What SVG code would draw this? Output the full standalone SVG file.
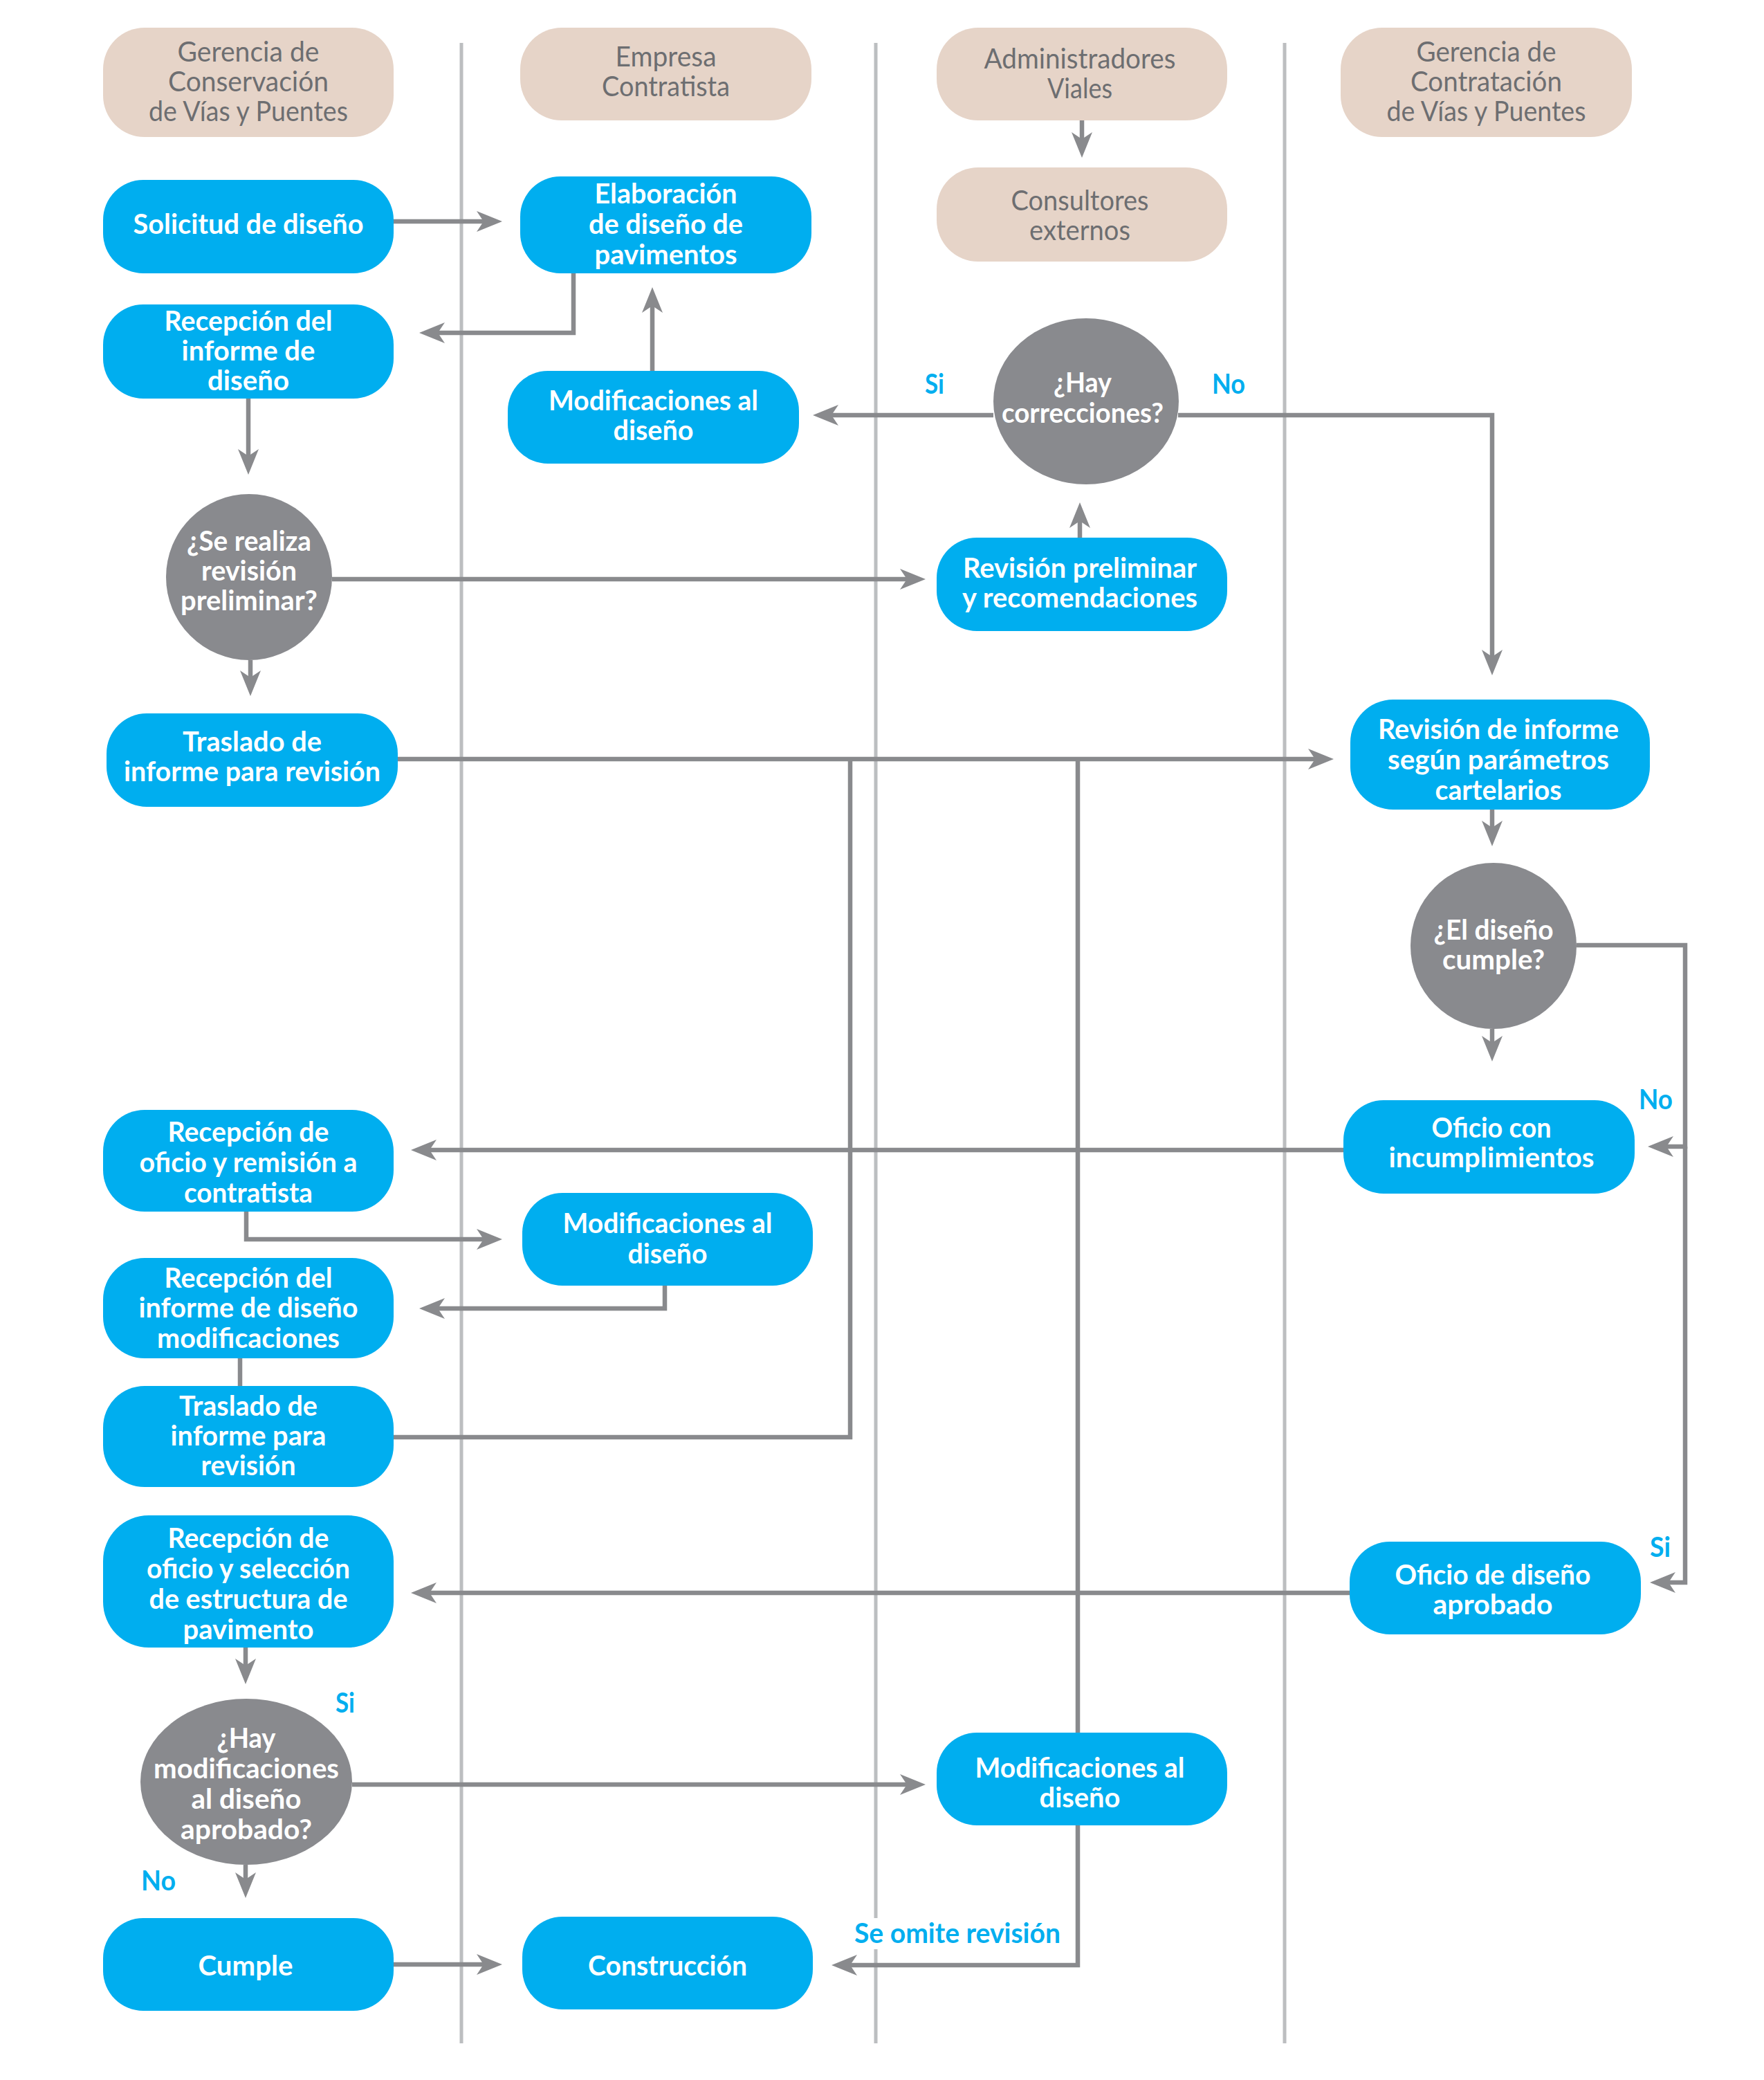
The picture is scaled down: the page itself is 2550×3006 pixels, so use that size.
<svg xmlns="http://www.w3.org/2000/svg" width="2550" height="3006" viewBox="0 0 2550 3006">
<style>
.bg{fill:#ffffff}
.lane{stroke:#BCBEC0;stroke-width:5;fill:none}
.hdr{fill:#E6D4C8}
.blue{fill:#00AEEF}
.dec{fill:#898A8E}
.con{stroke:#898A8D;stroke-width:6.5;fill:none}
.arr{marker-end:url(#ah)}
text{font-family:Lato,"Liberation Sans","DejaVu Sans",sans-serif;text-anchor:middle}
.h{font-size:40px;font-weight:400;fill:#6D6E71}
.t{font-size:41px;font-weight:700;fill:#ffffff}
.lbl{font-size:41px;font-weight:700;fill:#00AEEF;text-anchor:start}
</style>
<defs>
<marker id="ah" markerUnits="userSpaceOnUse" markerWidth="40" markerHeight="34" viewBox="0 -17 40 34" refX="10" refY="0" orient="auto" overflow="visible">
<path d="M0,-15 L37,0 L0,15 L10,0 Z" fill="#898A8D"/>
</marker>
</defs>
<rect class="bg" x="0" y="0" width="2550" height="3006"/>

<g id="lanes">
<line class="lane" x1="667" y1="62" x2="667" y2="2953"/>
<line class="lane" x1="1266" y1="62" x2="1266" y2="2772"/>
<line class="lane" x1="1266" y1="2817" x2="1266" y2="2953"/>
<line class="lane" x1="1857" y1="62" x2="1857" y2="2953"/>
</g>

<g id="connectors">
<path class="con arr" d="M569,320 H699"/>
<path class="con arr" d="M829,395 V481 H633"/>
<path class="con arr" d="M943,536 V442"/>
<path class="con arr" d="M359,576 V659"/>
<path class="con arr" d="M362,954 V979"/>
<path class="con arr" d="M480,837 H1311"/>
<path class="con arr" d="M1561,777 V753"/>
<path class="con arr" d="M1436,600 H1202"/>
<path class="con arr" d="M1703,600 H2157 V949"/>
<path class="con arr" d="M1564,174 V201"/>
<path class="con arr" d="M575,1097 H1901"/>
<path class="con arr" d="M2157,1170 V1196"/>
<path class="con arr" d="M2157,1487 V1507"/>
<path class="con arr" d="M2279,1366 H2436 V1657 H2409"/>
<path class="con arr" d="M2436,1657 V2287 H2412"/>
<path class="con arr" d="M1942,1662 H621"/>
<path class="con arr" d="M356,1751 V1791 H699"/>
<path class="con arr" d="M961,1858 V1891 H633"/>
<path class="con" d="M347,1963 V2003"/>
<path class="con" d="M569,2077 H1229 V1097"/>
<path class="con" d="M1558,1097 V2504"/>
<path class="con arr" d="M1951,2302 H621"/>
<path class="con arr" d="M355,2381 V2407"/>
<path class="con arr" d="M509,2579 H1311"/>
<path class="con arr" d="M355,2695 V2716"/>
<path class="con arr" d="M569,2839 H699"/>
<path class="con arr" d="M1558,2638 V2840 H1229"/>
</g>

<g id="h1">
<rect class="hdr" x="149" y="40" width="420" height="158" rx="60"/>
<text class="h" x="359" y="89" textLength="205" lengthAdjust="spacingAndGlyphs">Gerencia de</text>
<text class="h" x="359" y="132" textLength="232" lengthAdjust="spacingAndGlyphs">Conservación</text>
<text class="h" x="359" y="175" textLength="288" lengthAdjust="spacingAndGlyphs">de Vías y Puentes</text>
</g>
<g id="h2">
<rect class="hdr" x="752" y="40" width="421" height="134" rx="60"/>
<text class="h" x="962.5" y="96" textLength="146" lengthAdjust="spacingAndGlyphs">Empresa</text>
<text class="h" x="962.5" y="139" textLength="185" lengthAdjust="spacingAndGlyphs">Contratista</text>
</g>
<g id="h3">
<rect class="hdr" x="1354" y="40" width="420" height="134" rx="60"/>
<text class="h" x="1561" y="99" textLength="277" lengthAdjust="spacingAndGlyphs">Administradores</text>
<text class="h" x="1561" y="142" textLength="94" lengthAdjust="spacingAndGlyphs">Viales</text>
</g>
<g id="consultores">
<rect class="hdr" x="1354" y="242" width="420" height="136" rx="60"/>
<text class="h" x="1561" y="304" textLength="199" lengthAdjust="spacingAndGlyphs">Consultores</text>
<text class="h" x="1561" y="347" textLength="146" lengthAdjust="spacingAndGlyphs">externos</text>
</g>
<g id="h4">
<rect class="hdr" x="1938" y="40" width="421" height="158" rx="60"/>
<text class="h" x="2148.5" y="89" textLength="202" lengthAdjust="spacingAndGlyphs">Gerencia de</text>
<text class="h" x="2148.5" y="132" textLength="219" lengthAdjust="spacingAndGlyphs">Contratación</text>
<text class="h" x="2148.5" y="175" textLength="288" lengthAdjust="spacingAndGlyphs">de Vías y Puentes</text>
</g>

<g id="n1">
<rect class="blue" x="149" y="260" width="420" height="135" rx="58"/>
<text class="t" x="359" y="338" textLength="333" lengthAdjust="spacingAndGlyphs">Solicitud de diseño</text>
</g>
<g id="n2">
<rect class="blue" x="752" y="255" width="421" height="140" rx="58"/>
<text class="t" x="962.5" y="294" textLength="206" lengthAdjust="spacingAndGlyphs">Elaboración</text>
<text class="t" x="962.5" y="338" textLength="223" lengthAdjust="spacingAndGlyphs">de diseño de</text>
<text class="t" x="962.5" y="382" textLength="206" lengthAdjust="spacingAndGlyphs">pavimentos</text>
</g>
<g id="n3">
<rect class="blue" x="149" y="440" width="420" height="136" rx="58"/>
<text class="t" x="359" y="478" textLength="243" lengthAdjust="spacingAndGlyphs">Recepción del</text>
<text class="t" x="359" y="521" textLength="193" lengthAdjust="spacingAndGlyphs">informe de</text>
<text class="t" x="359" y="564" textLength="118" lengthAdjust="spacingAndGlyphs">diseño</text>
</g>
<g id="n4">
<rect class="blue" x="734" y="536" width="421" height="134" rx="58"/>
<text class="t" x="944.5" y="593" textLength="303" lengthAdjust="spacingAndGlyphs">Modificaciones al</text>
<text class="t" x="944.5" y="636" textLength="116" lengthAdjust="spacingAndGlyphs">diseño</text>
</g>
<g id="d1">
<circle class="dec" cx="360" cy="834" r="120"/>
<text class="t" x="360" y="796" textLength="180" lengthAdjust="spacingAndGlyphs">¿Se realiza</text>
<text class="t" x="360" y="839" textLength="138" lengthAdjust="spacingAndGlyphs">revisión</text>
<text class="t" x="360" y="882" textLength="198" lengthAdjust="spacingAndGlyphs">preliminar?</text>
</g>
<g id="d2">
<ellipse class="dec" cx="1570" cy="580" rx="134" ry="120"/>
<text class="t" x="1565" y="567" textLength="84" lengthAdjust="spacingAndGlyphs">¿Hay</text>
<text class="t" x="1565" y="611" textLength="234" lengthAdjust="spacingAndGlyphs">correcciones?</text>
</g>
<g id="n5">
<rect class="blue" x="1354" y="777" width="420" height="135" rx="58"/>
<text class="t" x="1561" y="835" textLength="338" lengthAdjust="spacingAndGlyphs">Revisión preliminar</text>
<text class="t" x="1561" y="878" textLength="340" lengthAdjust="spacingAndGlyphs">y recomendaciones</text>
</g>
<g id="n6">
<rect class="blue" x="154" y="1031" width="421" height="135" rx="58"/>
<text class="t" x="364.5" y="1086" textLength="201" lengthAdjust="spacingAndGlyphs">Traslado de</text>
<text class="t" x="364.5" y="1129" textLength="371" lengthAdjust="spacingAndGlyphs">informe para revisión</text>
</g>
<g id="n7">
<rect class="blue" x="1952" y="1011" width="433" height="159" rx="62"/>
<text class="t" x="2166" y="1068" textLength="348" lengthAdjust="spacingAndGlyphs">Revisión de informe</text>
<text class="t" x="2166" y="1112" textLength="320" lengthAdjust="spacingAndGlyphs">según parámetros</text>
<text class="t" x="2166" y="1156" textLength="183" lengthAdjust="spacingAndGlyphs">cartelarios</text>
</g>
<g id="d3">
<circle class="dec" cx="2159" cy="1367" r="120"/>
<text class="t" x="2159" y="1358" textLength="173" lengthAdjust="spacingAndGlyphs">¿El diseño</text>
<text class="t" x="2159" y="1401" textLength="148" lengthAdjust="spacingAndGlyphs">cumple?</text>
</g>
<g id="n8">
<rect class="blue" x="1942" y="1590" width="421" height="135" rx="58"/>
<text class="t" x="2156" y="1644" textLength="173" lengthAdjust="spacingAndGlyphs">Oficio con</text>
<text class="t" x="2156" y="1687" textLength="297" lengthAdjust="spacingAndGlyphs">incumplimientos</text>
</g>
<g id="n9">
<rect class="blue" x="149" y="1604" width="420" height="147" rx="60"/>
<text class="t" x="359" y="1650" textLength="233" lengthAdjust="spacingAndGlyphs">Recepción de</text>
<text class="t" x="359" y="1694" textLength="315" lengthAdjust="spacingAndGlyphs">oficio y remisión a</text>
<text class="t" x="359" y="1738" textLength="186" lengthAdjust="spacingAndGlyphs">contratista</text>
</g>
<g id="n10">
<rect class="blue" x="755" y="1724" width="420" height="134" rx="58"/>
<text class="t" x="965" y="1782" textLength="303" lengthAdjust="spacingAndGlyphs">Modificaciones al</text>
<text class="t" x="965" y="1826" textLength="115" lengthAdjust="spacingAndGlyphs">diseño</text>
</g>
<g id="n11">
<rect class="blue" x="149" y="1818" width="420" height="145" rx="60"/>
<text class="t" x="359" y="1861" textLength="243" lengthAdjust="spacingAndGlyphs">Recepción del</text>
<text class="t" x="359" y="1904" textLength="317" lengthAdjust="spacingAndGlyphs">informe de diseño</text>
<text class="t" x="359" y="1948" textLength="264" lengthAdjust="spacingAndGlyphs">modificaciones</text>
</g>
<g id="n12">
<rect class="blue" x="149" y="2003" width="420" height="146" rx="60"/>
<text class="t" x="359" y="2046" textLength="200" lengthAdjust="spacingAndGlyphs">Traslado de</text>
<text class="t" x="359" y="2089" textLength="225" lengthAdjust="spacingAndGlyphs">informe para</text>
<text class="t" x="359" y="2132" textLength="137" lengthAdjust="spacingAndGlyphs">revisión</text>
</g>
<g id="n13">
<rect class="blue" x="149" y="2190" width="420" height="191" rx="66"/>
<text class="t" x="359" y="2237" textLength="233" lengthAdjust="spacingAndGlyphs">Recepción de</text>
<text class="t" x="359" y="2281" textLength="294" lengthAdjust="spacingAndGlyphs">oficio y selección</text>
<text class="t" x="359" y="2325" textLength="287" lengthAdjust="spacingAndGlyphs">de estructura de</text>
<text class="t" x="359" y="2369" textLength="189" lengthAdjust="spacingAndGlyphs">pavimento</text>
</g>
<g id="n14">
<rect class="blue" x="1951" y="2228" width="421" height="134" rx="58"/>
<text class="t" x="2158" y="2290" textLength="283" lengthAdjust="spacingAndGlyphs">Oficio de diseño</text>
<text class="t" x="2158" y="2333" textLength="173" lengthAdjust="spacingAndGlyphs">aprobado</text>
</g>
<g id="d4">
<ellipse class="dec" cx="356" cy="2575" rx="153" ry="120"/>
<text class="t" x="356" y="2526" textLength="85" lengthAdjust="spacingAndGlyphs">¿Hay</text>
<text class="t" x="356" y="2570" textLength="268" lengthAdjust="spacingAndGlyphs">modificaciones</text>
<text class="t" x="356" y="2614" textLength="159" lengthAdjust="spacingAndGlyphs">al diseño</text>
<text class="t" x="356" y="2658" textLength="190" lengthAdjust="spacingAndGlyphs">aprobado?</text>
</g>
<g id="n15">
<rect class="blue" x="1354" y="2504" width="420" height="134" rx="58"/>
<text class="t" x="1561" y="2569" textLength="303" lengthAdjust="spacingAndGlyphs">Modificaciones al</text>
<text class="t" x="1561" y="2612" textLength="117" lengthAdjust="spacingAndGlyphs">diseño</text>
</g>
<g id="n16">
<rect class="blue" x="149" y="2772" width="420" height="134" rx="58"/>
<text class="t" x="355" y="2855" textLength="137" lengthAdjust="spacingAndGlyphs">Cumple</text>
</g>
<g id="n17">
<rect class="blue" x="755" y="2770" width="420" height="134" rx="58"/>
<text class="t" x="965" y="2855" textLength="230" lengthAdjust="spacingAndGlyphs">Construcción</text>
</g>

<g id="labels">
<text class="lbl" x="1337" y="569" textLength="28" lengthAdjust="spacingAndGlyphs">Si</text>
<text class="lbl" x="1752" y="569" textLength="48" lengthAdjust="spacingAndGlyphs">No</text>
<text class="lbl" x="2369" y="1603" textLength="49" lengthAdjust="spacingAndGlyphs">No</text>
<text class="lbl" x="2385" y="2250" textLength="30" lengthAdjust="spacingAndGlyphs">Si</text>
<text class="lbl" x="485" y="2475" textLength="28" lengthAdjust="spacingAndGlyphs">Si</text>
<text class="lbl" x="204" y="2732" textLength="50" lengthAdjust="spacingAndGlyphs">No</text>
<text class="lbl" x="1235" y="2808" textLength="298" lengthAdjust="spacingAndGlyphs">Se omite revisión</text>
</g>
</svg>
